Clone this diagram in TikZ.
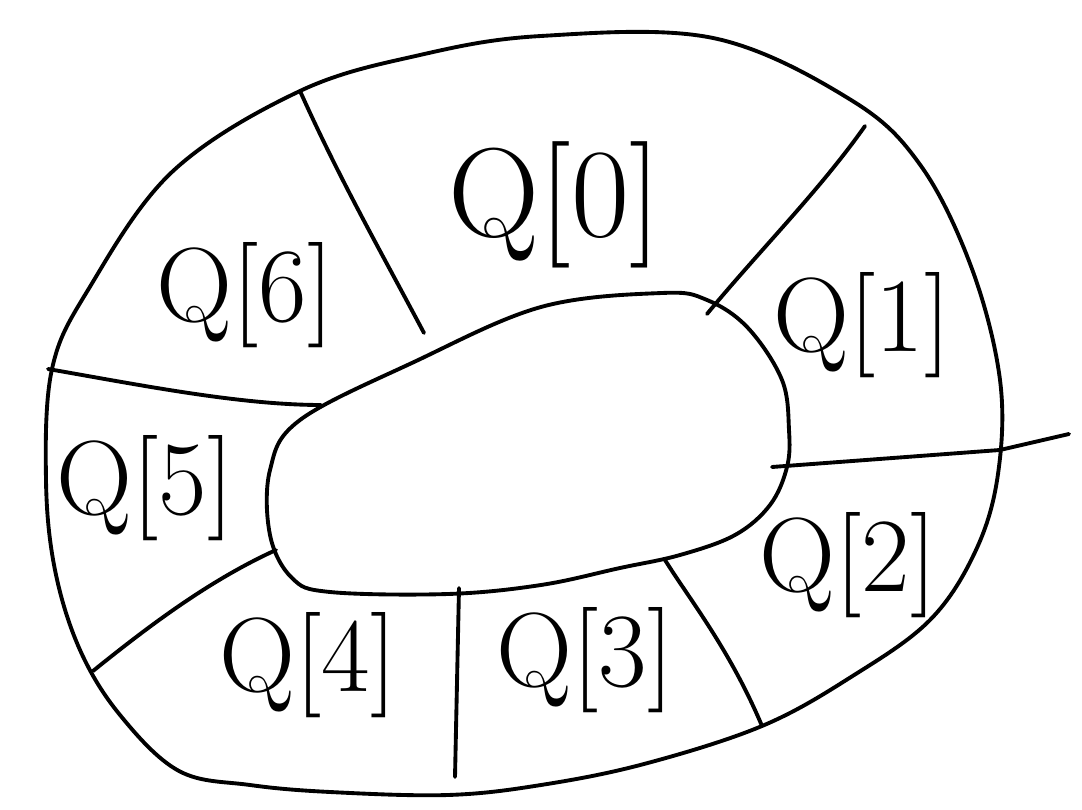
\documentclass[tikz,border=0pt]{standalone}
\usepackage{tikz}
\usetikzlibrary{calc}
\tikzset{
  ring/.style={line width=1.1pt, line join=round},
  divider/.style={line width=1.1pt, line cap=round},
  slot/.style={font=\fontsize{30}{34}\selectfont, inner sep=0pt},
  bigslot/.style={slot, font=\fontsize{36}{40}\selectfont}
}

\begin{document}
\begin{tikzpicture}[x=0.01cm, y=-0.01cm]
\useasboundingbox (0,0) rectangle (1082,810);

% outer and inner boundary of the ring
\draw[ring] plot[smooth cycle, tension=0.6] coordinates {
  (179,771) (120,715) (80,650) (55,570) (46,480) (52,369) (88,290) (172,172)
  (300,91) (420,55) (541,36) (713,38) (851,100) (921,166) (972,269)
  (1000,380) (998,474) (976,550) (930,620) (851,677) (762,726) (644,764)
  (541,785) (448,795) (330,792) (250,785)};
\draw[ring] plot[smooth cycle, tension=0.6] coordinates {
  (300,420) (414,362) (541,307) (662,293) (707,300) (748,328) (782,380)
  (789,430) (787,467) (770,505) (735,535) (680,555) (620,568) (541,585)
  (448,594) (330,592) (292,578) (270,535) (270,470)};

% end points of the dividers
\coordinate (o0) at (300,91);   \coordinate (i0) at (424,333);
\coordinate (o1) at (865,126);  \coordinate (i1) at (707,314);
\coordinate (o2) at (1069,434); \coordinate (i2) at (772,467);
\coordinate (o3) at (762,726);  \coordinate (i3) at (665,560);
\coordinate (o4) at (455,777);  \coordinate (i4) at (459,588);
\coordinate (o5) at (93,671);   \coordinate (i5) at (276,550);
\coordinate (o6) at (48,369);   \coordinate (i6) at (321,405);

\draw[divider] (o0) .. controls (340,180) and (380,250) .. (i0);
\draw[divider] (o1) .. controls (820,190) and (760,250) .. (i1);
\draw[divider] (i2) -- (1000,450) -- (o2);
\draw[divider] (i3) .. controls (690,600) and (730,650) .. (o3);
\draw[divider] (i4) -- (o4);
\draw[divider] (i5) .. controls (210,580) and (150,625) .. (o5);
\draw[divider] (o6) .. controls (140,385) and (240,405) .. (i6);

% slot labels
\node[bigslot] (q0) at (555,205) {Q[0]};
\node[slot] (q1) at (862,325) {Q[1]};
\node[slot] (q2) at (848,565) {Q[2]};
\node[slot] (q3) at (585,660) {Q[3]};
\node[slot] (q4) at (308,665) {Q[4]};
\node[slot] (q5) at (145,488) {Q[5]};
\node[slot] (q6) at (245,295) {Q[6]};
\end{tikzpicture}
\end{document}
